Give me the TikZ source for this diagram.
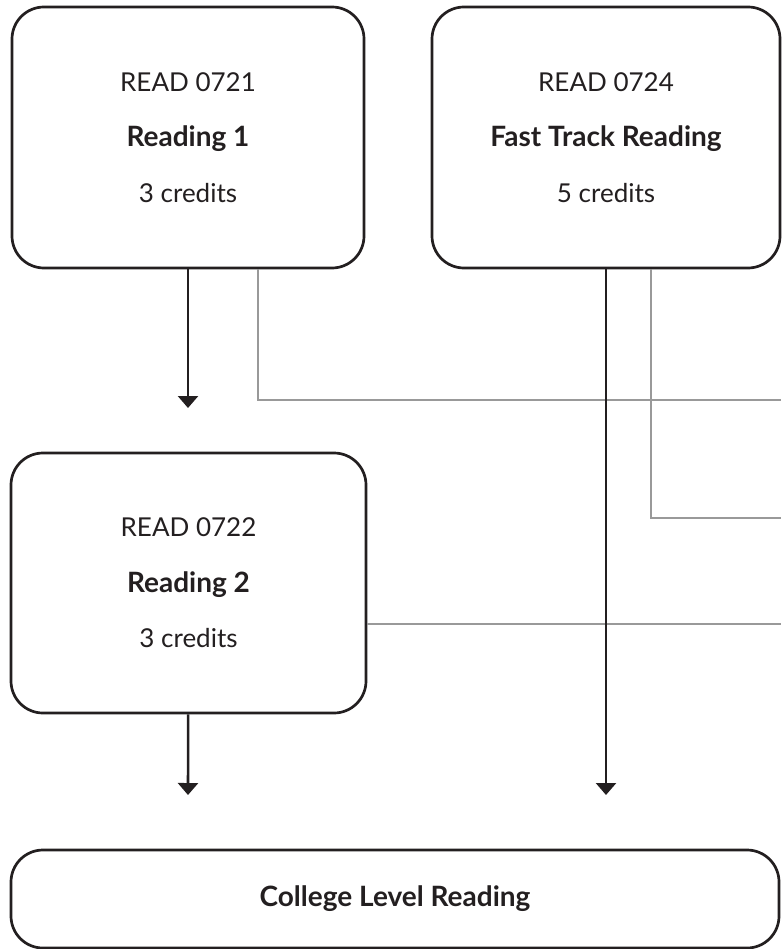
\documentclass[tikz,border=0pt]{standalone}
\usepackage{fontspec}
\setmainfont{Lato}
\usepackage{tikz}
\usetikzlibrary{arrows.meta}
\usetikzlibrary{shapes,positioning,calc}
\definecolor{ink}{HTML}{231F20}
\definecolor{rule}{HTML}{999999}
\newcommand{\ctitle}[1]{{\fontsize{28}{55.5}\selectfont\bfseries #1}}

\begin{document}
\begin{tikzpicture}[x=1pt, y=-1pt, >={Triangle[width=20pt,length=12pt]},
		course/.style={draw=ink, line width=2.7pt, rounded corners=32pt, minimum width=352pt,
			minimum height=261pt, align=center, text=ink, font=\fontsize{26}{55.5}\selectfont},
		link/.style={ink, line width=2.6pt},
		alt/.style={rule, line width=2.8pt}]
		\useasboundingbox (0,0) rectangle (781,949);
		\node[course] (r1) at (188,137.5) {READ 0721\\\ctitle{Reading 1}\\3 credits};
		\node[course, minimum width=348pt] (ft) at (606,137.5) {READ 0724\\\ctitle{Fast Track Reading}\\5 credits};
		\node[course, minimum width=355pt, minimum height=260pt] (r2) at (188.5,583) {READ 0722\\\ctitle{Reading 2}\\3 credits};
		\node[course, minimum width=768pt, minimum height=98pt] (cl) at (395,899) {\ctitle{College Level Reading}};
		% free ends
		\coordinate (a1) at (188,408);
		\coordinate (a2) at (188,795);
		\coordinate (a3) at (606,795);
		\coordinate (g1) at (781,400);
		\coordinate (g2) at (781,518);
		\coordinate (g3) at (781,624);
		% grey links to the right
		\draw[alt] ([xshift=70pt]r1.south) |- (g1);
		\draw[alt] ([xshift=45pt]ft.south) |- (g2);
		\draw[alt] (r2.east |- g3) -- (g3);
		% black arrows
		\draw[link, ->] (r1) -- (a1);
		\draw[link, ->] (r2) -- (a2);
		\draw[link, ->] (ft) -- (a3);
\end{tikzpicture}
\end{document}
